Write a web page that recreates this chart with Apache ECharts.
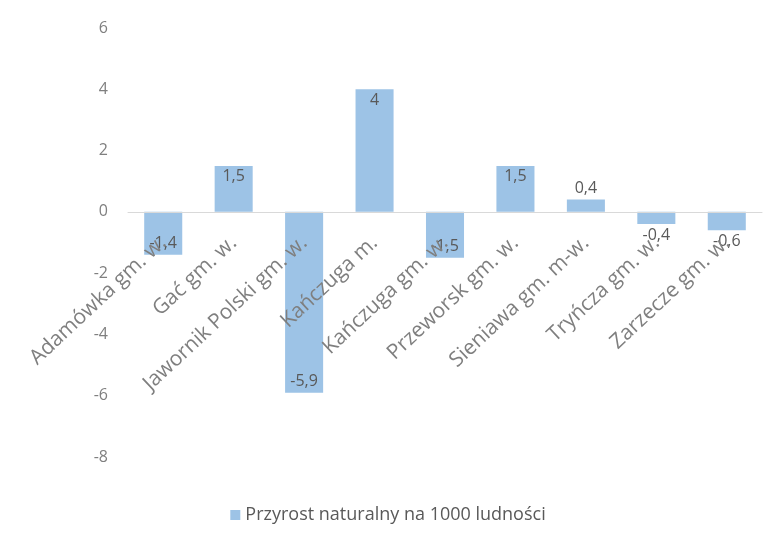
<!DOCTYPE html>
<html>
<head>
<meta charset="utf-8">
<script src="https://cdn.jsdelivr.net/npm/echarts@6/dist/echarts.min.js"></script>
<style>html,body{margin:0;padding:0;background:#fff}#c{width:776px;height:547px}</style>
</head>
<body>
<div id="c"></div>
<script>
const categories = ["Adamówka gm. w.", "Gać gm. w.", "Jawornik Polski gm. w.", "Kańczuga m.", "Kańczuga gm. w.", "Przeworsk gm. w.", "Sieniawa gm. m-w.", "Tryńcza gm. w.", "Zarzecze gm. w."];
const values = [-1.4, 1.5, -5.9, 4, -1.5, 1.5, 0.4, -0.4, -0.6];
const seriesName = "Przyrost naturalny na 1000 ludności";
const yTicks = { min: -8, max: 6, interval: 2 };

const fmt = v => String(v).replace('.', ',');
const gridTop = 28, gridBottom = 90, H = 547;
const chart = echarts.init(document.getElementById('c'));
chart.setOption({
  animation: false,
  textStyle: { fontFamily: 'Open Sans' },
  grid: { left: 128, right: 14, top: gridTop, bottom: gridBottom, outerBoundsMode: 'none', containLabel: false },
  legend: {
    bottom: 18, left: 'center',
    itemWidth: 10, itemHeight: 10, icon: 'rect',
    textStyle: { color: '#595959', fontSize: 18, fontFamily: 'Open Sans' },
    data: [seriesName]
  },
  xAxis: {
    type: 'category', data: categories, z: 5,
    axisLine: { onZero: false, lineStyle: { color: '#d9d9d9', width: 1 } },
    axisTick: { show: false },
    axisLabel: { rotate: 43, color: '#7f7f7f', fontSize: 21, margin: 28, interval: 0, fontFamily: 'Open Sans' }
  },
  yAxis: {
    type: 'value', min: yTicks.min, max: yTicks.max, interval: yTicks.interval,
    splitLine: { show: false },
    axisLine: { show: false }, axisTick: { show: false },
    axisLabel: { color: '#7f7f7f', fontSize: 16, margin: 20, fontFamily: 'Open Sans' }
  },
  series: [{
    name: seriesName, type: 'bar', barCategoryGap: '46%', z: 2,
    itemStyle: { color: '#9dc3e6' },
    data: values.map(v => ({
      value: v,
      label: {
        show: true,
        position: Math.abs(v) < 1 ? (v > 0 ? 'top' : 'bottom') : (v > 0 ? 'insideTop' : 'insideBottom'),
        formatter: () => fmt(v),
        color: '#595959', fontSize: 16, fontFamily: 'Open Sans', distance: 3
      }
    }))
  }]
});
// move the category axis (line + labels) onto the zero line using the library's own scale
const zeroY = chart.convertToPixel({ yAxisIndex: 0 }, 0);
chart.setOption({ xAxis: { offset: -((H - gridBottom) - zeroY) } });
</script>
</body>
</html>
